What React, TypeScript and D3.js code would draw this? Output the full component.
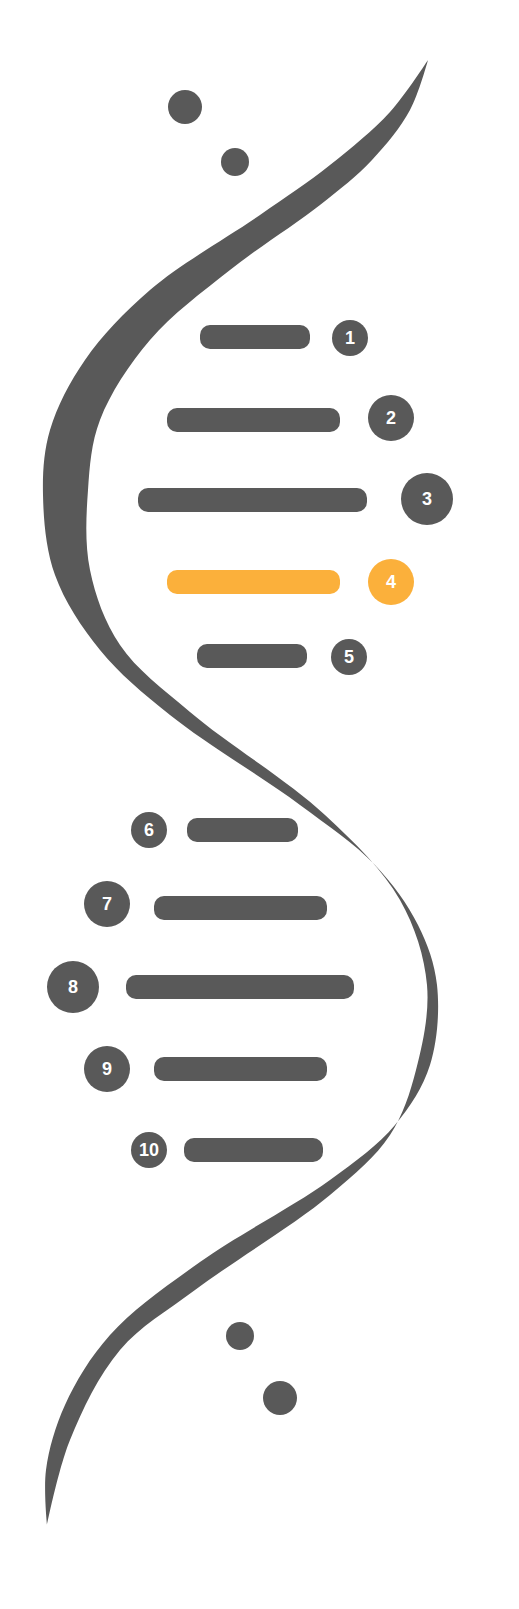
import React, { useEffect } from "react";
import * as d3 from "d3";

const labels = ["1","2","3","4","5","6","7","8","9","10"];
const barX0 = [200,167,138,167,197,187,154,126,154,184];
const barX1 = [310,340,367,340,307,298,327,354,327,323];
const barY = [337,420,500,582,656,830,908,987,1069,1150];
const circX = [350,391,427,391,349,149,107,73,107,149];
const circY = [338,418,499,582,657,830,904,987,1069,1150];
const circR = [18,23,26,23,18,18,23,26,23,18];
const highlight = 3;

const dotsX = [185,235,240,280];
const dotsY = [107,162,1336,1398];
const dotsR = [17,14,14,17];

const outerEdge: [number, number][] = [
  [428,60],[390,112],[330,165],[260,215],[150,290],[85,360],[50,430],[43,495],[55,575],[100,650],[170,715],[300,805],[375,865],[418,925],[437,985],[430,1065],[395,1125],[330,1180],[200,1262],[110,1335],[65,1405],[46,1470],[47,1525]
];
const innerEdge: [number, number][] = [
  [47,1525],[70,1440],[120,1350],[195,1290],[330,1195],[390,1135],[416,1070],[427,985],[400,900],[325,815],[190,712],[120,645],[90,570],[88,490],[100,420],[150,340],[230,270],[320,205],[372,160],[410,110],[428,60]
];

export default function App() {
  useEffect(() => {
    document.body.style.margin = "0";
    document.body.style.overflow = "hidden";
    document.documentElement.style.overflow = "hidden";
  }, []);
  const line = d3.line<[number, number]>().x(d => d[0]).y(d => d[1]).curve(d3.curveCatmullRom.alpha(0.5));
  const dOuter = line(outerEdge) || "";
  const dInner = (line(innerEdge) || "").replace(/^M/, "L");
  const grey = "#595959";
  const orange = "#FBB03B";
  return (
    <svg width={519} height={1609} style={{ display: "block", position: "fixed", left: 0, top: 0 }}>
      <rect width={519} height={1609} fill="#fff" />
      <path d={dOuter + dInner + "Z"} fill={grey} />
      {dotsX.map((x, i) => <circle key={"d"+i} cx={x} cy={dotsY[i]} r={dotsR[i]} fill={grey} />)}
      {labels.map((l, i) => {
        const c = i === highlight ? orange : grey;
        return (
          <g key={l}>
            <rect x={barX0[i]} y={barY[i]-12} width={barX1[i]-barX0[i]} height={24} rx={10} fill={c} />
            <circle cx={circX[i]} cy={circY[i]} r={circR[i]} fill={c} />
            <text x={circX[i]} y={circY[i]} dy="0.36em" textAnchor="middle" fontFamily="Arial, Liberation Sans, sans-serif" fontWeight="bold" fontSize={18} fill="#fff">{l}</text>
          </g>
        );
      })}
    </svg>
  );
}
